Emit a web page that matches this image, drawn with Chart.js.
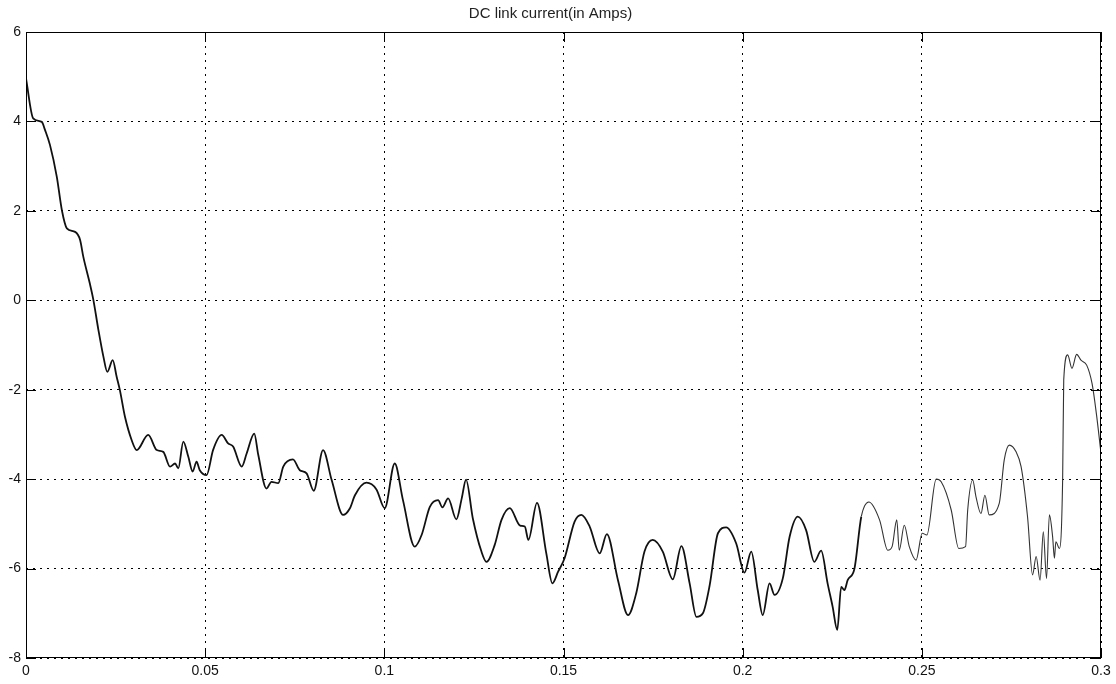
<!DOCTYPE html>
<html>
<head>
<meta charset="utf-8">
<title>DC link current</title>
<script src="https://cdn.jsdelivr.net/npm/chart.js@4/dist/chart.umd.min.js"></script>
<style>
  html, body { margin: 0; padding: 0; background: #fff; }
  #wrap { width: 1116px; height: 684px; }
</style>
</head>
<body>
<div id="wrap"><canvas id="dcChart"></canvas></div>
<script>
// time in seconds
const timeS = [
  0, 0.0020, 0.0044, 0.0053, 0.0067, 0.0086, 0.0100, 0.0114, 0.0137, 0.0151,
  0.0160, 0.0178, 0.0188, 0.0202, 0.0216, 0.0227, 0.0242, 0.0253, 0.0262, 0.0276,
  0.0295, 0.0309, 0.0341, 0.0365, 0.0383, 0.0402, 0.0416, 0.0425, 0.0439, 0.0453,
  0.0465, 0.0476, 0.0485, 0.0504, 0.0522, 0.0546, 0.0564, 0.0578, 0.0602, 0.0616,
  0.0637, 0.0648, 0.0671, 0.0685, 0.0704, 0.0718, 0.0745, 0.0764, 0.0783, 0.0803,
  0.0829, 0.0853, 0.0885, 0.0904, 0.0918, 0.0950, 0.0978, 0.1001, 0.1029, 0.1052,
  0.1085, 0.1104, 0.1127, 0.1150, 0.1162, 0.1178, 0.1201, 0.1216, 0.1228, 0.1247,
  0.1271, 0.1285, 0.1308, 0.1327, 0.1350, 0.1379, 0.1392, 0.1402, 0.1426, 0.1452,
  0.1469, 0.1485, 0.1503, 0.1531, 0.1550, 0.1573, 0.1601, 0.1621, 0.1652, 0.1680,
  0.1703, 0.1726, 0.1749, 0.1777, 0.1805, 0.1829, 0.1852, 0.1871, 0.1889, 0.1908,
  0.1931, 0.1954, 0.1982, 0.2005, 0.2024, 0.2042, 0.2056, 0.2075, 0.2089, 0.2112,
  0.2131, 0.2154, 0.2177, 0.2200, 0.2219, 0.2237, 0.2251, 0.2264, 0.2275, 0.2284,
  0.2293, 0.2312, 0.2331, 0.2352, 0.2382, 0.2405, 0.2417, 0.2430, 0.2437, 0.2451,
  0.2465, 0.2484, 0.2501, 0.2514, 0.2540, 0.2554, 0.2582, 0.2603, 0.2622, 0.2628,
  0.2642, 0.2651, 0.2665, 0.2676, 0.2688, 0.2716, 0.2730, 0.2744, 0.2763, 0.2777,
  0.2795, 0.2809, 0.2819, 0.2830, 0.2839, 0.2848, 0.2856, 0.2865, 0.2870, 0.2874,
  0.2884, 0.2893, 0.2896, 0.2907, 0.2919, 0.2932, 0.2944, 0.2960, 0.2975, 0.2987,
  0.3000
];
// current in amps
const currentA = [
  4.96, 4.07, 3.99, 3.81, 3.47, 2.76, 2.02, 1.61, 1.53, 1.35,
  0.97, 0.38, 0.01, -0.66, -1.26, -1.60, -1.34, -1.71, -2.01, -2.60,
  -3.13, -3.35, -3.01, -3.35, -3.39, -3.72, -3.65, -3.76, -3.16, -3.50,
  -3.83, -3.61, -3.80, -3.91, -3.35, -3.01, -3.20, -3.27, -3.72, -3.42,
  -2.98, -3.45, -4.21, -4.06, -4.09, -3.72, -3.56, -3.80, -3.87, -4.26,
  -3.35, -4.02, -4.80, -4.65, -4.36, -4.08, -4.23, -4.65, -3.65, -4.47,
  -5.51, -5.25, -4.62, -4.47, -4.63, -4.43, -4.90, -4.43, -4.01, -4.88,
  -5.62, -5.85, -5.47, -4.91, -4.65, -5.04, -5.06, -5.36, -4.53, -5.66,
  -6.33, -6.07, -5.77, -4.95, -4.80, -5.06, -5.66, -5.23, -6.26, -7.04,
  -6.55, -5.62, -5.36, -5.62, -6.24, -5.50, -6.33, -7.08, -7.00, -6.37,
  -5.21, -5.08, -5.44, -6.09, -5.62, -6.48, -7.04, -6.33, -6.59, -6.22,
  -5.29, -4.84, -5.14, -5.85, -5.60, -6.33, -6.85, -7.37, -6.41, -6.48,
  -6.26, -6.00, -4.84, -4.51, -4.91, -5.59, -5.51, -4.91, -5.59, -5.03,
  -5.51, -5.81, -5.21, -5.25, -4.00, -4.06, -4.69, -5.55, -5.51, -4.69,
  -4.02, -4.39, -4.77, -4.36, -4.80, -4.54, -3.57, -3.24, -3.39, -3.72,
  -4.84, -6.14, -5.73, -6.26, -5.18, -6.22, -4.80, -5.29, -5.77, -5.40,
  -5.55, -3.98, -1.78, -1.22, -1.52, -1.21, -1.34, -1.45, -1.86, -2.53,
  -3.42
];
const xTicks = [0, 0.05, 0.1, 0.15, 0.2, 0.25, 0.3];
const yTicks = [-8, -6, -4, -2, 0, 2, 4, 6];

const points = timeS.map((t, i) => ({ x: t, y: currentA[i] }));

// matlab style box with inward ticks
const boxPlugin = {
  id: 'box',
  afterDatasetsDraw(chart) {
    const { ctx, chartArea: a, scales } = chart;
    ctx.save();
    ctx.strokeStyle = '#000';
    ctx.lineWidth = 1;
    ctx.strokeRect(a.left + 0.5, a.top + 0.5, a.right - a.left - 1, a.bottom - a.top - 1);
    ctx.beginPath();
    xTicks.forEach(v => {
      const px = Math.round(scales.x.getPixelForValue(v)) + 0.5;
      ctx.moveTo(px, a.bottom); ctx.lineTo(px, a.bottom - 10);
      ctx.moveTo(px, a.top); ctx.lineTo(px, a.top + 10);
    });
    yTicks.forEach(v => {
      const py = Math.round(scales.y.getPixelForValue(v)) + 0.5;
      ctx.moveTo(a.left, py); ctx.lineTo(a.left + 10, py);
      ctx.moveTo(a.right, py); ctx.lineTo(a.right - 10, py);
    });
    ctx.stroke();
    ctx.restore();
  }
};

const font = 'Liberation Sans, Arial, sans-serif';

const ctx = document.getElementById('dcChart').getContext('2d');
const chart = new Chart(ctx, {
  type: 'line',
  data: {
    datasets: [{
      data: points,
      borderColor: '#111',
      borderWidth: 1.8,
      pointRadius: 0,
      cubicInterpolationMode: 'monotone',
      fill: false,
      segment: {
        borderWidth: c => c.p0.parsed.x >= 0.232 ? 1.1 : 1.8,
        borderColor: c => c.p0.parsed.x >= 0.232 ? '#333' : '#111'
      }
    }]
  },
  options: {
    responsive: true,
    maintainAspectRatio: false,
    animation: false,
    layout: { padding: { left: 0, right: 15, top: 0, bottom: 0 } },
    plugins: {
      legend: { display: false },
      tooltip: { enabled: false },
      title: {
        display: true,
        text: 'DC link current(in Amps)',
        color: '#222',
        font: { family: font, size: 15, weight: 'normal' },
        padding: { top: 5, bottom: 9 }
      }
    },
    scales: {
      x: {
        type: 'linear',
        min: 0,
        max: 0.3,
        afterBuildTicks: s => { s.ticks = xTicks.map(v => ({ value: v })); },
        afterFit: s => { s.height = 26; },
        ticks: {
          color: '#111',
          padding: 5,
          maxRotation: 0,
          font: { family: font, size: 14 },
          callback: v => Number(v.toFixed(3)).toString()
        },
        grid: { color: '#000', lineWidth: 1, drawTicks: false },
        border: { display: false, dash: [2, 5] }
      },
      y: {
        type: 'linear',
        min: -8,
        max: 6,
        afterBuildTicks: s => { s.ticks = yTicks.map(v => ({ value: v })); },
        afterFit: s => { s.width = 26; },
        ticks: {
          color: '#111',
          padding: 5,
          font: { family: font, size: 14 }
        },
        grid: { color: '#000', lineWidth: 1, drawTicks: false },
        border: { display: false, dash: [2, 5] }
      }
    }
  },
  plugins: [boxPlugin]
});
</script>
</body>
</html>
